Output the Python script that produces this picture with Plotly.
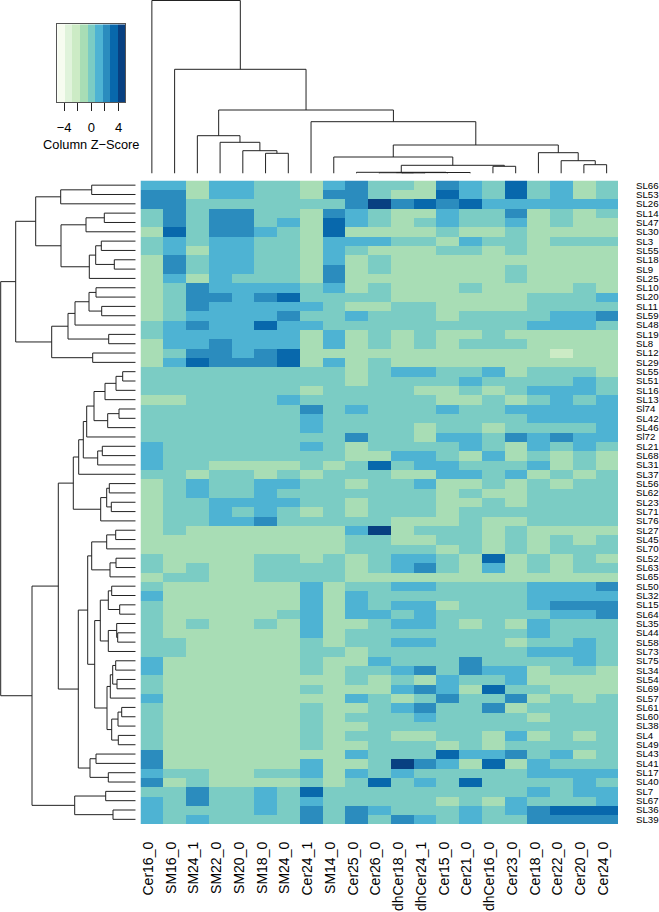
import plotly.graph_objects as go

W, H = 659, 912

col_labels = ["Cer16_0", "SM16_0", "SM24_1", "SM22_0", "SM20_0", "SM18_0", "SM24_0", "Cer24_1",
              "SM14_0", "Cer25_0", "Cer26_0", "dhCer18_0", "dhCer24_1", "Cer15_0", "Cer21_0",
              "dhCer16_0", "Cer23_0", "Cer18_0", "Cer22_0", "Cer20_0", "Cer24_0"]

row_labels = ["SL66", "SL53", "SL26", "SL14", "SL47", "SL30", "SL3", "SL55", "SL18", "SL9", "SL25",
              "SL10", "SL20", "SL11", "SL59", "SL48", "SL19", "SL8", "SL12", "SL29", "SL55", "SL51",
              "SL16", "SL13", "Sl74", "SL42", "SL46", "Sl72", "SL21", "SL68", "SL31", "SL37", "SL56",
              "SL62", "SL23", "SL71", "SL76", "SL27", "SL45", "SL70", "SL52", "SL63", "SL65", "SL50",
              "SL32", "SL15", "SL64", "SL35", "SL44", "SL58", "SL73", "SL75", "SL34", "SL54", "SL69",
              "SL57", "SL61", "SL60", "SL38", "SL4", "SL49", "SL43", "SL41", "SL17", "SL40", "SL7",
              "SL67", "SL36", "SL39"]

# colour bin of each cell, one digit per column (0 = palest ... 8 = darkest)
cell_bins = [
    "553554435644365474534",
    "663554436643375474534",
    "664444444686767555555",
    "464664436543354463434",
    "464664537543454453433",
    "374665437333343343333",
    "454554435554435443444",
    "453554435433344343333",
    "364554435343333333333",
    "364554436343333343333",
    "353544436333333343333",
    "346555545343334333343",
    "346656744443333334445",
    "346555554334433334444",
    "345555644544434444556",
    "456557554444444445554",
    "455555535343433433333",
    "355655535343434443333",
    "346656733333333333233",
    "357666735343333333333",
    "444444444345544534443",
    "444444444344445444454",
    "444444434444334345554",
    "334444544444433434545",
    "444444464544454455555",
    "444444454444444445555",
    "444444454444344344445",
    "444444444644355465655",
    "544444454344445435454",
    "544444444335543534343",
    "544333343474554445343",
    "443443434443355453434",
    "345445544344533434344",
    "345445444444434334444",
    "344555544344433434444",
    "344545434344434444444",
    "344556444443334334444",
    "343333333583444343333",
    "333333333443344343434",
    "333333333444434343444",
    "433334434345543734343",
    "434334444345643534344",
    "344334444333333333333",
    "433333353445544445556",
    "533333353544444445555",
    "433333353545534445666",
    "433333453554544444556",
    "434334353345543435444",
    "433333353444444445444",
    "443333343445544434454",
    "443333344344444445554",
    "533333343354446444454",
    "533333343445646553443",
    "433333333434354453333",
    "433333343335653744333",
    "533333333543464463434",
    "433333343345644634444",
    "433333343444544443444",
    "433333343344444444444",
    "433333343443344353434",
    "433333343344434344444",
    "633333333544475564534",
    "633333353348653735444",
    "544334453545444445555",
    "634333343474547444454",
    "446445474444444445455",
    "546445454444434354445",
    "544445464654445456777",
    "545444464646545446666",
]

z_low, z_high = -5, 5
key_ticks = [-4, -2, 0, 2, 4]
key_labels = ["\u22124", "", "0", "", "4"]

palette = ["#f7fcf0", "#e0f3db", "#ccebc5", "#a8ddb5", "#7bccc4",
           "#4eb3d3", "#2b8cbe", "#0868ac", "#084081"]

col_tree = (173, 0, (104.2, 1, (63.5,
    (37.8, 2, (31.2, 3, (22.8, 4, (20.2, 5, 6)))),
    (51.8, 7, (28.5,
        (16.5, 8, (8.2,
            (1.2, 9, (1.0, (0.8, (0.6, 10, (0.4, 11, 12)), 13), 14)),
            (7.2, 15, 16))),
        (20.8, 17, (12.8, 18, (8.8, 19, 20))))))))

row_tree_top = (120,
    (100,
        (75, (44, 0, 1), 2),
        (74.7,
            (49.7, (31.4, 3, 4), 5),
            (46.4, (40, (34.4, 6, 7), (21.4, 8, 9)), 10))),
    (84,
        (67.7,
            (60.7, (46.7, (39.7, 11, 12), (34, 13, 14)), 15),
            (27, 16, 17)),
        (43, 18, 19)))

row_tree_mid = (62.4,
    (57,
        (52.4,
            (49,
                (41.7,
                    (30.7, (19.7, (13, 20, 21), 22), 23),
                    (28, (16.7, 24, 25), 26)),
                27),
            (38, (33.4, 28, 29), 30)),
        31),
    (35, (29, (26.4, 32, 33), (24.4, 34, 35)), 36))

row_tree_low = (57.4,
    (48,
        (44, (29, (20, 37, 38), 39), (25.7, (19.7, 40, 41), 42)),
        (41,
            (35.4,
                (27.4, (24, 43, 44), (16, 45, 46)),
                (27.4, (19, 47, (18, 48, 49)), 50)),
            (28.7,
                (25.4, (23, (20, 51, 52), (18.7, 53, 54)), 55),
                (24, (17.7, (14, 56, 57), 58), (17.4, 59, 60))))),
    (45.7, (39.7, 61, 62), (27.4, 63, 64)))

row_tree = (135, row_tree_top, (103.7,
    (77.4, row_tree_mid, row_tree_low),
    (61, (30, 65, 66), (22.7, 67, 68))))


def walk(node, pos, hgt):
    # returns position and height of a node, appends its U shape
    if isinstance(node, int):
        return node, 0
    h, a, b = node
    pa, ha = walk(a, pos, hgt)
    pb, hb = walk(b, pos, hgt)
    pos += [pa, pa, pb, pb, None]
    hgt += [ha, h, h, hb, None]
    return (pa + pb) / 2, h


z = [[int(ch) for ch in row] for row in cell_bins]
n_rows, n_cols = len(z), len(z[0])

scale = []
for i, c in enumerate(palette):
    scale += [[i / 9, c], [(i + 1) / 9, c]]

fig = go.Figure()

fig.add_trace(go.Heatmap(z=z, x=list(range(n_cols)), y=list(range(n_rows)), colorscale=scale,
                         zmin=-0.5, zmax=8.5, showscale=False, xaxis="x", yaxis="y"))

cx, ch = [], []
walk(col_tree, cx, ch)
fig.add_trace(go.Scatter(x=cx, y=ch, mode="lines", line=dict(color="#222222", width=1),
                         showlegend=False, xaxis="x2", yaxis="y2"))

ry, rh = [], []
walk(row_tree, ry, rh)
fig.add_trace(go.Scatter(x=rh, y=ry, mode="lines", line=dict(color="#222222", width=1),
                         showlegend=False, xaxis="x3", yaxis="y3"))

step = (z_high - z_low) / len(palette)
fig.add_trace(go.Heatmap(z=[list(range(len(palette)))],
                         x=[z_low + step * (i + 0.5) for i in range(len(palette))], y=[0],
                         colorscale=scale, zmin=-0.5, zmax=8.5, showscale=False,
                         xaxis="x4", yaxis="y4"))

font = "Liberation Sans, Arial, Helvetica, sans-serif"
hm_l, hm_r, hm_t, hm_b = 140.5, 618, 180.5, 824
hidden = dict(visible=False, showgrid=False, zeroline=False)

fig.update_layout(
    width=W, height=H, autosize=False, margin=dict(l=0, r=0, t=0, b=0, autoexpand=False),
    paper_bgcolor="white", plot_bgcolor="white", showlegend=False,
    font=dict(family=font, color="black"),
    xaxis=dict(domain=[hm_l / W, hm_r / W], range=[-0.5, n_cols - 0.5], showgrid=False, zeroline=False,
               anchor="y", tickmode="array", tickvals=[i - 0.15 for i in range(n_cols)], ticktext=col_labels,
               tickangle=-90, tickfont=dict(size=14), ticks="", ticklabelstandoff=14, automargin=False),
    yaxis=dict(domain=[1 - hm_b / H, 1 - hm_t / H], range=[n_rows - 0.5, -0.5], side="right",
               anchor="x", showgrid=False, zeroline=False, tickmode="array", tickvals=list(range(n_rows)),
               ticktext=row_labels, tickfont=dict(size=9.7), ticks="", ticklabelstandoff=17, automargin=False),
    xaxis2=dict(domain=[hm_l / W, hm_r / W], range=[-0.5, n_cols - 0.5], anchor="y2", **hidden),
    yaxis2=dict(domain=[1 - 173.5 / H, 1], range=[0, 173.5], anchor="x2", **hidden),
    xaxis3=dict(domain=[0, 135.7 / W], range=[135.7, 0], anchor="y3", **hidden),
    yaxis3=dict(domain=[1 - hm_b / H, 1 - hm_t / H], range=[n_rows - 0.5, -0.5], anchor="x3", **hidden),
    xaxis4=dict(domain=[57.3 / W, 125.3 / W], range=[z_low, z_high], showgrid=False, zeroline=False,
                anchor="y4", tickmode="array", tickvals=key_ticks, ticktext=key_labels, ticks="outside",
                ticklen=8, tickwidth=1, tickcolor="#222222", tickfont=dict(size=13), ticklabelstandoff=5,
                showline=True, mirror=True, linecolor="#555555", linewidth=1, automargin=False,
                title=dict(text="Column Z\u2212Score", font=dict(size=12.8), standoff=6)),
    yaxis4=dict(domain=[1 - 102.3 / H, 1 - 24.3 / H], range=[-0.5, 0.5], showgrid=False, zeroline=False,
                anchor="x4", showticklabels=False, ticks="", showline=True, mirror=True,
                linecolor="#555555", linewidth=1, automargin=False),
)

fig.write_html("out.html", config=dict(displayModeBar=False),
               post_script="document.body.style.margin='0';")
